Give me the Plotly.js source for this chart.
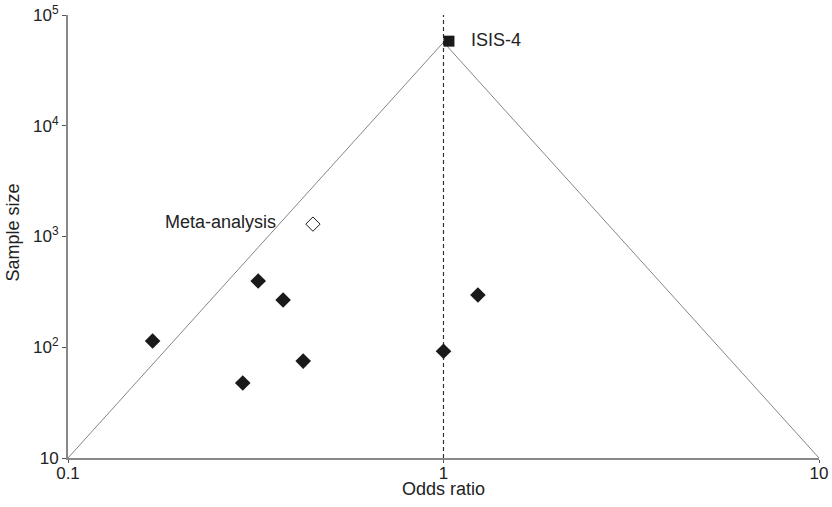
<!DOCTYPE html>
<html>
<head>
<meta charset="utf-8">
<script src="https://cdn.plot.ly/plotly-3.0.1.min.js"></script>
<style>html,body{margin:0;padding:0;background:#fff}#chart{width:832px;height:507px}</style>
</head>
<body>
<div id="chart"></div>
<script>
// Individual trials
const studyOR = [0.168, 0.292, 0.321, 0.374, 0.423, 1.0, 1.235];
const studyN  = [114, 47.5, 396, 267, 75, 92, 296];
// Meta-analysis of small trials
const metaOR = [0.449];
const metaN  = [1294];
const metaLabel = "Meta-analysis";
// Mega trial
const isisOR = [1.034];
const isisN  = [58050];
const isisLabel = "ISIS-4";
// Funnel boundaries
const funnelOR = [0.1, 1, 10];
const funnelN  = [10, 56800, 10];
// Null line
const nullOR = [1, 1];
const nullN  = [10, 100000];
// Tick labels and axis titles
const xTickVals = [0.1, 1, 10];
const xTickText = ["0.1", "1", "10"];
const yTickVals = [10, 100, 1000, 10000, 100000];
const yTickText = ["10", "10<sup>2</sup>", "10<sup>3</sup>", "10<sup>4</sup>", "10<sup>5</sup>"];
const xTitle = "Odds ratio";
const yTitle = "Sample size";

const FAM = "Liberation Sans, Arial, sans-serif";
function f(size) { return {family: FAM, size: size, color: "#222"}; }

const traces = [
  {x: funnelOR, y: funnelN, mode: "lines", line: {color: "#666", width: 0.8}, hoverinfo: "skip"},
  {x: nullOR, y: nullN, mode: "lines", line: {color: "#333", width: 1.2, dash: "4px,3px"}, hoverinfo: "skip"},
  {x: studyOR, y: studyN, mode: "markers", marker: {symbol: "diamond", size: 12, color: "#1a1a1a"}},
  {x: metaOR, y: metaN, mode: "markers",
   marker: {symbol: "diamond-open", size: 11, color: "#1a1a1a", line: {width: 1}}},
  {x: isisOR, y: isisN, mode: "markers",
   marker: {symbol: "square", size: 11, color: "#1a1a1a"}}
];

const layout = {
  width: 832, height: 507,
  margin: {l: 68, r: 13, t: 15, b: 49},
  paper_bgcolor: "#fff", plot_bgcolor: "#fff",
  showlegend: false,
  font: f(17),
  annotations: [
    {x: Math.log10(metaOR[0]), y: Math.log10(metaN[0]), xref: "x", yref: "y",
     text: metaLabel, showarrow: false, xanchor: "right", yanchor: "middle",
     xshift: -35, yshift: 2, font: f(18)},
    {x: Math.log10(isisOR[0]), y: Math.log10(isisN[0]), xref: "x", yref: "y",
     text: isisLabel, showarrow: false, xanchor: "left", yanchor: "middle",
     xshift: 20, yshift: 1, font: f(18)},
    {x: 0.5, y: 0, xref: "paper", yref: "paper", text: xTitle, showarrow: false,
     xanchor: "center", yanchor: "middle", yshift: -31, font: f(18)},
    {x: 0, y: 0.5, xref: "paper", yref: "paper", text: yTitle, showarrow: false,
     textangle: -90, xanchor: "center", yanchor: "middle", xshift: -56, yshift: 4, font: f(18)}
  ],
  xaxis: {
    type: "log", range: [-1, 1],
    tickvals: xTickVals, ticktext: xTickText,
    showgrid: false, zeroline: false,
    showline: true, linecolor: "#888", linewidth: 2,
    ticks: "outside", ticklen: 3, tickcolor: "#555",
    ticklabelstandoff: -4,
    tickfont: f(17)
  },
  yaxis: {
    type: "log", range: [1, 5],
    tickvals: yTickVals, ticktext: yTickText,
    showgrid: false, zeroline: false,
    showline: true, linecolor: "#888", linewidth: 2,
    ticks: "outside", ticklen: 4, tickcolor: "#555",
    tickfont: f(17)
  }
};

Plotly.newPlot("chart", traces, layout, {displayModeBar: false, staticPlot: true});
</script>
</body>
</html>
